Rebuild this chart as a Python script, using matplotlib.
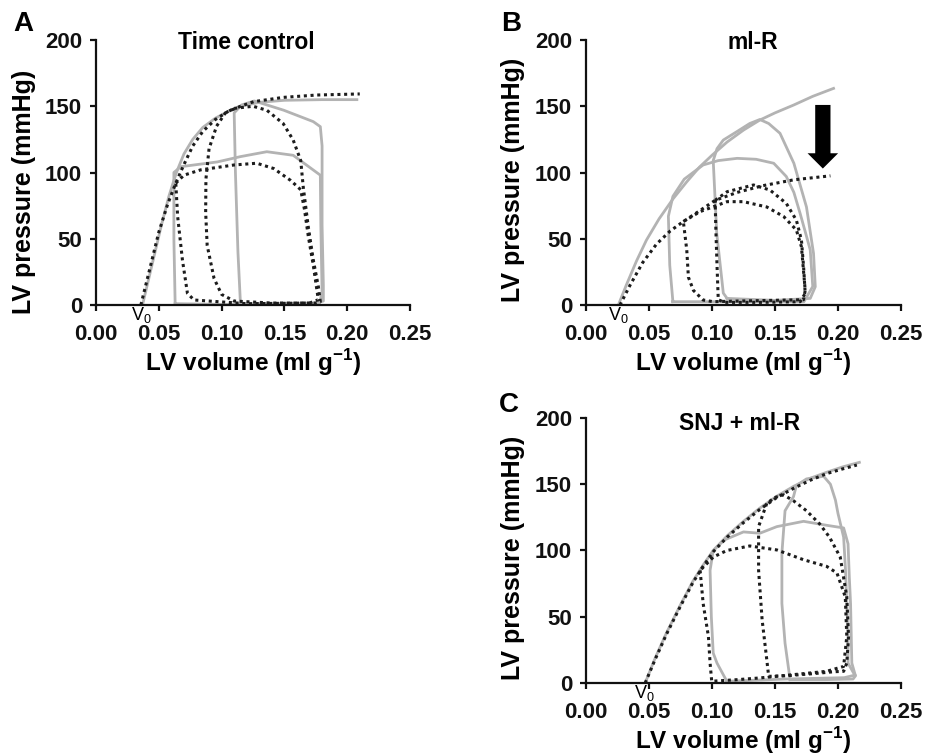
import numpy as np
import matplotlib
matplotlib.use("Agg")
import matplotlib.pyplot as plt

plt.rcParams['font.family'] = ['Liberation Sans', 'DejaVu Sans']
plt.rcParams['font.weight'] = 'bold'
plt.rcParams['mathtext.fontset'] = 'custom'
plt.rcParams['mathtext.rm'] = 'Liberation Sans'
plt.rcParams['mathtext.bf'] = 'Liberation Sans:bold'

GRAY = '#b3b3b3'
DARK = '#1c1c1c'

# ---- Panel A: Time control ----
a_v0 = 0.036
a_espvr_gray_x = [0.037, 0.045, 0.052, 0.058, 0.064, 0.070, 0.077, 0.085, 0.095, 0.105, 0.115, 0.13,
                  0.15, 0.18, 0.2077]
a_espvr_gray_y = [0, 32, 60, 82, 100, 114, 125, 134, 141, 146, 150, 153, 154.5, 155, 155]
a_espvr_dot_x = [0.0357, 0.043, 0.050, 0.057, 0.0635, 0.070, 0.077, 0.085, 0.095, 0.105, 0.115, 0.1257,
                 0.149, 0.176, 0.21]
a_espvr_dot_y = [0, 28, 55, 76, 92, 106, 120, 131, 140, 146, 150, 153.5, 156.7, 158.5, 159.3]
a_loop1_gray_x = [0.115, 0.113, 0.111, 0.110, 0.116, 0.126, 0.1495, 0.173, 0.1786, 0.180, 0.180, 0.181, 0.181, 0.175, 0.14, 0.115]
a_loop1_gray_y = [1, 40, 100, 145, 151, 154, 147, 138.4, 134.6, 120, 60, 15, 3, 1.5, 1, 1]
a_loop2_gray_x = [0.063, 0.062, 0.062, 0.0675, 0.0966, 0.115, 0.136, 0.157, 0.1786, 0.179, 0.180, 0.178, 0.10, 0.063]
a_loop2_gray_y = [1, 50, 100, 104.4, 108, 112, 115.7, 113, 98, 60, 10, 1, 0.5, 1]
a_loop1_dot_x = [0.11, 0.125, 0.136, 0.149, 0.157, 0.163, 0.165, 0.169, 0.173, 0.177, 0.1786, 0.175, 0.14,
                 0.11, 0.10, 0.094, 0.0885, 0.0873, 0.0875, 0.090, 0.096, 0.103, 0.11]
a_loop1_dot_y = [148.4, 150, 147, 137, 124.5, 109, 89, 59, 34, 14, 2.5, 1.5, 1.5,
                 3, 8, 20, 45, 70, 95, 118, 135, 145, 148.4]
a_loop2_dot_x = [0.0635, 0.07, 0.0833, 0.11, 0.128, 0.1415, 0.155, 0.163, 0.166, 0.169, 0.173, 0.177,
                 0.17, 0.12, 0.078, 0.0728, 0.0688, 0.065, 0.0635]
a_loop2_dot_y = [92, 98, 102, 105.7, 107, 103, 94, 87, 72, 52, 30, 4,
                 1.5, 1, 3.8, 8.8, 34, 66.7, 92]

# ---- Panel B: ml-R ----
b_v0 = 0.026
b_espvr_gray_x = [0.0257, 0.032, 0.040, 0.048, 0.058, 0.069, 0.080, 0.090, 0.100, 0.112, 0.125, 0.138,
                  0.150, 0.165, 0.180, 0.1965]
b_espvr_gray_y = [0, 15, 33, 49, 65, 80, 93, 104, 113, 123, 132, 139.6, 145, 151, 157.5, 163.5]
b_espvr_dot_x = [0.027, 0.035, 0.045, 0.056, 0.067, 0.0773, 0.09, 0.1025, 0.12, 0.14, 0.165, 0.194]
b_espvr_dot_y = [0, 15, 32, 46, 56, 63, 71, 79, 85, 90, 94.5, 97.5]
b_loop1_gray_x = [0.112, 0.109, 0.1038, 0.101, 0.104, 0.109, 0.12, 0.13, 0.138, 0.145, 0.154, 0.165,
                  0.175, 0.1806, 0.182, 0.178, 0.15, 0.112]
b_loop1_gray_y = [5, 9, 54, 109, 118, 124.5, 131, 137, 140, 137, 129.6, 107,
                  74, 39, 13.8, 5, 3.5, 5]
b_loop2_gray_x = [0.069, 0.0665, 0.0654, 0.069, 0.078, 0.085, 0.093, 0.105, 0.12, 0.135, 0.149, 0.159,
                  0.165, 0.170, 0.175, 0.178, 0.180, 0.173, 0.12, 0.069]
b_loop2_gray_y = [2.5, 30, 67, 82, 95, 100, 105.7, 109, 110.7, 110, 107, 97,
                  85, 69, 52, 41.5, 14, 2.5, 2.5, 2.5]
b_loop1_dot_x = [0.1025, 0.112, 0.133, 0.146, 0.159, 0.167, 0.171, 0.1727, 0.174, 0.170, 0.14,
                 0.11, 0.105, 0.104, 0.103, 0.1025]
b_loop1_dot_y = [79, 85.5, 90.6, 86.8, 76.7, 64, 49, 29, 8.8, 2.5, 2,
                 2, 4, 30, 60, 79]
b_loop2_dot_x = [0.0773, 0.0906, 0.112, 0.125, 0.1435, 0.157, 0.167, 0.171, 0.174, 0.1727, 0.12,
                 0.101, 0.093, 0.0853, 0.0813, 0.08, 0.0773]
b_loop2_dot_y = [63, 70.5, 78, 78, 74, 66.7, 56.6, 44, 11, 4, 3,
                 2.5, 3.8, 11, 21, 41.5, 63]
b_arrow_x = 0.188
b_arrow_y = [151, 103]

# ---- Panel C: SNJ + ml-R ----
c_v0 = 0.046
c_espvr_gray_x = [0.047, 0.055, 0.064, 0.075, 0.085, 0.093, 0.101, 0.112, 0.125, 0.138, 0.1515,
                  0.165, 0.178, 0.191, 0.2035, 0.217]
c_espvr_gray_y = [0, 19, 38, 59, 77, 89, 100, 111, 122, 132, 141, 148.5, 154.5, 159, 163, 166.5]
c_espvr_dot_x = [0.047, 0.055, 0.064, 0.075, 0.085, 0.093, 0.101, 0.112, 0.125, 0.138, 0.1515,
                 0.165, 0.178, 0.191, 0.2035, 0.215]
c_espvr_dot_y = [0, 18, 37, 58, 76, 88, 99, 110, 121, 131, 140, 147, 153, 158, 161.5, 164.5]
c_loop1_gray_x = [0.162, 0.158, 0.1555, 0.1555, 0.158, 0.1647, 0.167, 0.175, 0.1886, 0.194, 0.198,
                  0.200, 0.2045, 0.206, 0.207, 0.208, 0.208, 0.2124, 0.214, 0.212, 0.19, 0.162]
c_loop1_gray_y = [2.5, 30, 60, 98, 130, 140.6, 149, 154, 156, 150, 138,
                  128, 110, 85, 60, 35, 15, 7.5, 5.5, 3, 2.5, 2.5]
c_loop2_gray_x = [0.1118, 0.104, 0.101, 0.0995, 0.0985, 0.101, 0.11, 0.125, 0.138, 0.1515, 0.1727,
                  0.191, 0.2045, 0.208, 0.209, 0.210, 0.211, 0.2137, 0.205, 0.16, 0.1118]
c_loop2_gray_y = [1.3, 15, 22.6, 50, 85, 100, 108, 114, 113, 118, 122,
                  119, 117, 105, 80, 60, 15, 6, 4, 3, 1.3]
c_loop1_dot_x = [0.1435, 0.137, 0.137, 0.1398, 0.1435, 0.145, 0.16, 0.18, 0.197, 0.2045, 0.207,
                 0.2084, 0.207, 0.2018, 0.1933, 0.1855, 0.175, 0.1647, 0.1568, 0.15, 0.1435]
c_loop1_dot_y = [135.5, 118, 85, 47.7, 17.6, 5, 5.5, 7, 8.5, 8.8, 15,
                 35, 65, 95, 110, 120, 130, 137.5, 142, 140, 135.5]
c_loop2_dot_x = [0.0906, 0.093, 0.0972, 0.0985, 0.0998, 0.12, 0.138, 0.1647, 0.191, 0.2045, 0.207,
                 0.2058, 0.1992, 0.191, 0.1727, 0.1515, 0.13, 0.1118, 0.101, 0.0906]
c_loop2_dot_y = [85, 60, 35, 15, 1.3, 2.5, 3.8, 6.3, 8.8, 12.5, 35,
                 65, 83, 88, 93, 100.4, 103.4, 100, 95, 85]

xticks = [0.00, 0.05, 0.10, 0.15, 0.20, 0.25]
yticks = [0, 50, 100, 150, 200]


def style_axes(ax):
    ax.set_xlim(0, 0.25)
    ax.set_ylim(0, 200)
    for s in ['top', 'right']:
        ax.spines[s].set_visible(False)
    for s in ['left', 'bottom']:
        ax.spines[s].set_linewidth(1.6)
        ax.spines[s].set_color('#111111')
    ax.set_xticks(xticks)
    ax.set_xticklabels(['%.2f' % t for t in xticks])
    ax.set_yticks(yticks)
    ax.tick_params(axis='both', direction='out', length=4, width=1.6, labelsize=16, colors='#111111')
    ax.tick_params(axis='x', pad=10)
    ax.tick_params(axis='y', pad=6)
    ax.text(0.5, -0.218, r'LV volume (ml g$^{\mathbf{-1}}$)', transform=ax.transAxes,
            ha='center', va='center', fontsize=17.5, fontweight='bold')


def draw(ax, gx, gy, dx, dy, loops_gray, loops_dot, v0):
    for lx, ly in loops_gray:
        ax.plot(lx, ly, color=GRAY, lw=2.0, solid_joinstyle='round')
    ax.plot(gx, gy, color=GRAY, lw=2.0)
    for lx, ly in loops_dot:
        ax.plot(lx, ly, color=DARK, lw=2.2, linestyle=(0, (1, 1.2)))
    ax.plot(dx, dy, color=DARK, lw=2.2, linestyle=(0, (1, 1.2)))
    ax.text(v0, -0.036, r'V$_\mathregular{0}$', transform=ax.get_xaxis_transform(),
            ha='center', va='center', fontsize=13, fontweight='normal')


fig = plt.figure(figsize=(9.35, 7.55), dpi=100)
axA = fig.add_axes([0.1027, 0.596, 0.3358, 0.351])
axB = fig.add_axes([0.6267, 0.596, 0.3369, 0.351])
axC = fig.add_axes([0.6267, 0.0954, 0.3369, 0.351])

for ax in (axA, axB, axC):
    style_axes(ax)

draw(axA, a_espvr_gray_x, a_espvr_gray_y, a_espvr_dot_x, a_espvr_dot_y,
     [(a_loop1_gray_x, a_loop1_gray_y), (a_loop2_gray_x, a_loop2_gray_y)],
     [(a_loop1_dot_x, a_loop1_dot_y), (a_loop2_dot_x, a_loop2_dot_y)], a_v0)
draw(axB, b_espvr_gray_x, b_espvr_gray_y, b_espvr_dot_x, b_espvr_dot_y,
     [(b_loop1_gray_x, b_loop1_gray_y), (b_loop2_gray_x, b_loop2_gray_y)],
     [(b_loop1_dot_x, b_loop1_dot_y), (b_loop2_dot_x, b_loop2_dot_y)], b_v0)
draw(axC, c_espvr_gray_x, c_espvr_gray_y, c_espvr_dot_x, c_espvr_dot_y,
     [(c_loop1_gray_x, c_loop1_gray_y), (c_loop2_gray_x, c_loop2_gray_y)],
     [(c_loop1_dot_x, c_loop1_dot_y), (c_loop2_dot_x, c_loop2_dot_y)], c_v0)

# arrow showing the drop of the ESPVR
axB.annotate('', xy=(b_arrow_x, b_arrow_y[1]), xytext=(b_arrow_x, b_arrow_y[0]),
             arrowprops=dict(arrowstyle='simple,head_length=0.55,head_width=1.1,tail_width=0.55',
                             mutation_scale=20, color='black', shrinkA=0, shrinkB=0, lw=0))

# titles
axA.text(0.478, 0.989, 'Time control', transform=axA.transAxes, ha='center', va='center', fontsize=16.5)
axB.text(0.53, 0.989, 'ml-R', transform=axB.transAxes, ha='center', va='center', fontsize=16.5)
axC.text(0.489, 0.981, 'SNJ + ml-R', transform=axC.transAxes, ha='center', va='center', fontsize=16.5)

# y labels
axA.text(-0.229, 0.426, 'LV pressure (mmHg)', transform=axA.transAxes, rotation=90,
         ha='center', va='center', fontsize=18)
axB.text(-0.232, 0.472, 'LV pressure (mmHg)', transform=axB.transAxes, rotation=90,
         ha='center', va='center', fontsize=18)
axC.text(-0.232, 0.472, 'LV pressure (mmHg)', transform=axC.transAxes, rotation=90,
         ha='center', va='center', fontsize=18)

# panel letters
fig.text(0.0246, 0.968, 'A', ha='center', va='center', fontsize=20)
fig.text(0.5465, 0.968, 'B', ha='center', va='center', fontsize=20)
fig.text(0.5444, 0.4636, 'C', ha='center', va='center', fontsize=20)

fig.savefig('out.png', dpi=100, facecolor='white')
